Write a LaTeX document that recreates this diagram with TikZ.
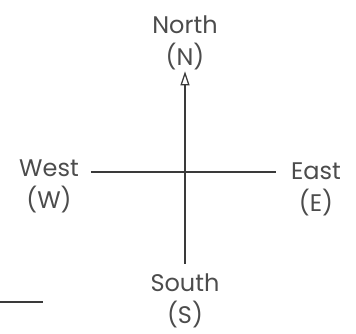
\documentclass[tikz,border=0pt]{standalone}
\usepackage{fontspec}
\setmainfont{Poppins}
\usetikzlibrary{arrows.meta}
\definecolor{ink}{HTML}{3A3A3A}
\definecolor{lbl}{HTML}{4C4C4C}
\tikzset{
  dir/.style={text=lbl,align=center,font=\fontsize{24}{32}\selectfont,inner sep=4pt},
  axis/.style={draw=ink,line width=1.4pt}
}

\begin{document}
\begin{tikzpicture}[x=1pt,y=-1pt]
\useasboundingbox (0,0) rectangle (356,334);

%directions
\node[dir] (N) at (185,43) {North\\(N)};
\node[dir] (S) at (185,301) {South\\(S)};
\node[dir] (W) at (49,186) {West\\(W)};
\node[dir] (E) at (316,189) {East\\(E)};
\coordinate (O) at (185,172);

%axes
\draw[axis,-{Triangle[open,length=14pt,width=9pt,line width=1.3pt]}] (S.north) ++(0,-6) -- ([yshift=3pt]N.south);
\draw[axis] (W.east |- O) ++(8,0) -- ([xshift=-11pt]E.west |- O);

%stray rule
\draw[axis] (0,302) -- (43,302);

\end{tikzpicture}
\end{document}
